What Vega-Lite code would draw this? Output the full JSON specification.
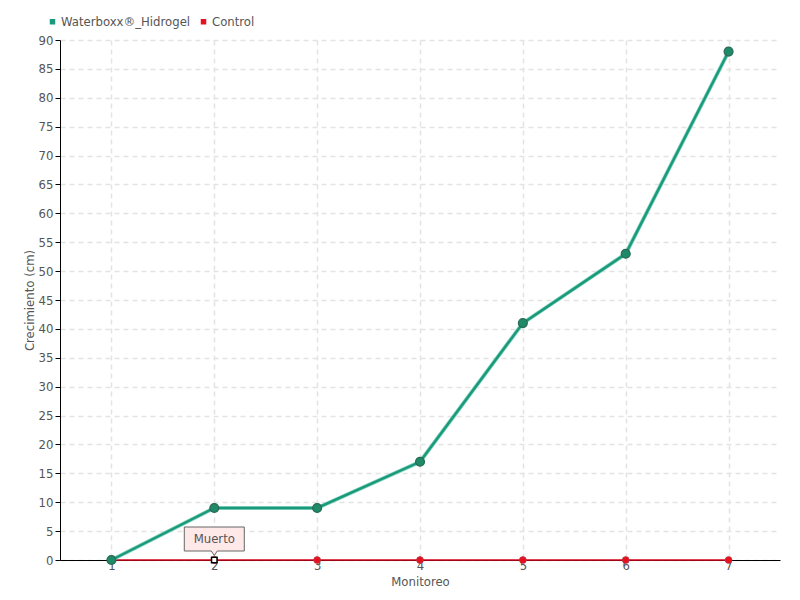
{
  "$schema": "https://vega.github.io/schema/vega-lite/v6.json",
  "width": 720,
  "height": 520,
  "autosize": {"type": "none"},
  "padding": {"left": 60, "top": 40, "right": 20, "bottom": 40},
  "background": "white",
  "config": {
    "font": "DejaVu Sans Condensed",
    "view": {"stroke": null},
    "axis": {
      "labelColor": "#555",
      "titleColor": "#555",
      "labelFontSize": 13,
      "titleFontSize": 13,
      "titleFontWeight": "normal",
      "domainColor": "#000",
      "tickColor": "#000",
      "gridColor": "#e3e3e3",
      "gridDash": [5, 4],
      "gridWidth": 1.5
    }
  },
  "data": {
    "values": [
      {"monitoreo": 1, "serie": "Waterboxx®_Hidrogel", "valor": 0},
      {"monitoreo": 2, "serie": "Waterboxx®_Hidrogel", "valor": 9},
      {"monitoreo": 3, "serie": "Waterboxx®_Hidrogel", "valor": 9},
      {"monitoreo": 4, "serie": "Waterboxx®_Hidrogel", "valor": 17},
      {"monitoreo": 5, "serie": "Waterboxx®_Hidrogel", "valor": 41},
      {"monitoreo": 6, "serie": "Waterboxx®_Hidrogel", "valor": 53},
      {"monitoreo": 7, "serie": "Waterboxx®_Hidrogel", "valor": 88},
      {"monitoreo": 1, "serie": "Control", "valor": 0},
      {"monitoreo": 2, "serie": "Control", "valor": 0, "nota": "Muerto"},
      {"monitoreo": 3, "serie": "Control", "valor": 0},
      {"monitoreo": 4, "serie": "Control", "valor": 0},
      {"monitoreo": 5, "serie": "Control", "valor": 0},
      {"monitoreo": 6, "serie": "Control", "valor": 0},
      {"monitoreo": 7, "serie": "Control", "valor": 0}
    ]
  },
  "encoding": {
    "x": {
      "field": "monitoreo",
      "type": "ordinal",
      "scale": {"type": "point", "padding": 0.5},
      "axis": {
        "title": "Monitoreo",
        "labelAngle": 0,
        "labelPadding": -1,
        "ticks": false,
        "titlePadding": 3,
        "grid": true
      }
    },
    "y": {
      "field": "valor",
      "type": "quantitative",
      "scale": {"domain": [0, 90], "nice": false},
      "axis": {
        "title": "Crecimiento (cm)",
        "values": [0,5,10,15,20,25,30,35,40,45,50,55,60,65,70,75,80,85,90],
        "tickSize": 5,
        "labelPadding": 2,
        "titlePadding": 2,
        "grid": true
      }
    }
  },
  "layer": [
    {
      "transform": [{"filter": "datum.serie === 'Control'"}],
      "mark": {"type": "line", "color": "#d8061e", "strokeWidth": 1.5},
      "encoding": {}
    },
    {
      "transform": [{"filter": "datum.serie === 'Waterboxx®_Hidrogel'"}],
      "mark": {"type": "line", "color": "#8fd6c0", "strokeWidth": 4},
      "encoding": {}
    },
    {
      "transform": [{"filter": "datum.serie === 'Waterboxx®_Hidrogel'"}],
      "mark": {"type": "line", "color": "#1a9a7c", "strokeWidth": 2.5},
      "encoding": {}
    },
    {
      "transform": [{"filter": "datum.serie === 'Control'"}],
      "mark": {"type": "point", "filled": true, "fill": "#e8101e", "stroke": "#c0303a", "strokeWidth": 1, "size": 45, "opacity": 1},
      "encoding": {}
    },
    {
      "mark": {"type": "point", "shape": "square", "filled": true, "opacity": 1, "size": 30, "strokeWidth": 0},
      "encoding": {
        "color": {
          "field": "serie",
          "type": "nominal",
          "scale": {"domain": ["Waterboxx®_Hidrogel", "Control"], "range": ["#1a9a7c", "#e8101e"]},
          "legend": {
            "title": null,
            "orient": "none",
            "legendX": -14,
            "legendY": -25,
            "direction": "horizontal",
            "symbolType": "square",
            "symbolSize": 30,
            "labelFontSize": 13,
            "labelColor": "#555",
            "columnPadding": 6,
            "symbolOffset": 0,
            "labelOffset": 2
          }
        },
        "opacity": {"value": 0}
      }
    },
    {
      "transform": [{"filter": "datum.serie === 'Waterboxx®_Hidrogel'"}],
      "mark": {"type": "point", "filled": true, "fill": "#1f8a68", "stroke": "#2a6b55", "strokeWidth": 1.2, "size": 80, "opacity": 1},
      "encoding": {}
    },
    {
      "transform": [{"filter": "isValid(datum.nota)"}],
      "mark": {"type": "point", "shape": "square", "filled": true, "fill": "white", "stroke": "black", "strokeWidth": 1.5, "size": 30, "opacity": 1},
      "encoding": {}
    },
    {
      "transform": [{"filter": "isValid(datum.nota)"}],
      "mark": {
        "type": "point",
        "shape": "M-1,-0.4 L1,-0.4 L1,0.4 L0.1,0.4 L0,0.55 L-0.1,0.4 L-1,0.4 Z",
        "size": 3600,
        "filled": true,
        "fill": "#ffe8e8",
        "stroke": "#666",
        "strokeWidth": 1,
        "opacity": 1,
        "yOffset": -21
      },
      "encoding": {}
    },
    {
      "transform": [{"filter": "isValid(datum.nota)"}],
      "mark": {"type": "text", "fontSize": 13, "color": "#555", "yOffset": -21, "baseline": "middle"},
      "encoding": {"text": {"field": "nota"}}
    }
  ]
}
